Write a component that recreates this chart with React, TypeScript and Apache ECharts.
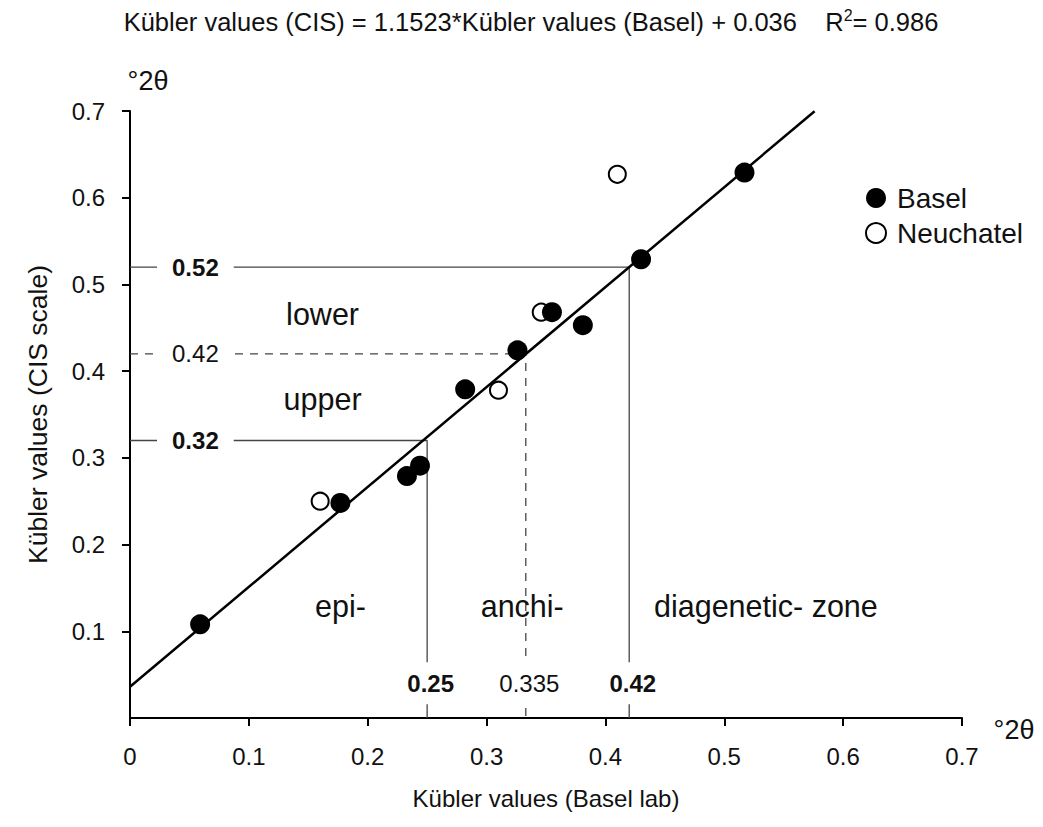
import React, { useEffect, useRef } from "react";
import * as echarts from "echarts";

// ---- data ----
const baselX = [0.059, 0.177, 0.233, 0.244, 0.282, 0.326, 0.355, 0.381, 0.43, 0.517];
const baselY = [0.108, 0.248, 0.279, 0.291, 0.379, 0.424, 0.468, 0.453, 0.529, 0.629];
const neuchatelX = [0.16, 0.31, 0.346, 0.41];
const neuchatelY = [0.25, 0.378, 0.468, 0.627];

const fitSlope = 1.1523;
const fitIntercept = 0.036;
const fitR2 = 0.986;
const fitXRange = [0, 0.576];

// zone limits (x = Basel lab, y = CIS scale)
const limitX = [0.25, 0.333, 0.42];
const limitY = [0.32, 0.42, 0.52];
const limitLabelX = ["0.25", "0.335", "0.42"];
const limitLabelY = ["0.32", "0.42", "0.52"];
const limitBold = [true, false, true];
const limitDashed = [false, true, false];

const zoneNames = ["epi-", "anchi-", "diagenetic- zone"];
const zoneX = [0.177, 0.33, 0.535];
const zoneY = 0.129;
const gradeNames = ["lower", "upper"];
const gradeX = 0.162;
const gradeY = [0.466, 0.368];

const axisMin = 0;
const axisMax = 0.7;
const axisStep = 0.1;

const FONT = "Liberation Sans, Arial, sans-serif";
const TXT = "#111";

export default function App() {
  const ref = useRef<HTMLDivElement>(null);
  useEffect(() => {
    document.body.style.margin = "0";
    const chart = echarts.init(ref.current!, null, { renderer: "svg" });

    const limitSeries = limitX.map((x, i) => ({
      type: "line",
      name: "limit" + i,
      data: [
        [0, limitY[i]],
        [x, limitY[i]],
        [x, 0],
      ],
      symbol: "none",
      silent: true,
      z: 1,
      lineStyle: {
        color: "#444",
        width: 1.3,
        type: limitDashed[i] ? [8, 7] : "solid",
      },
    }));

    const labelData: any[] = [];
    limitY.forEach((y, i) => {
      labelData.push({
        value: [0.055, y],
        name: limitLabelY[i],
        label: { fontWeight: limitBold[i] ? "bold" : "normal", padding: [2, 15] },
      });
      labelData.push({
        value: [limitX[i] + 0.003, 0.04],
        name: limitLabelX[i],
        label: { fontWeight: limitBold[i] ? "bold" : "normal", padding: [9, 3] },
      });
    });

    const textData: any[] = [];
    zoneNames.forEach((n, i) => textData.push({ value: [zoneX[i], zoneY], name: n }));
    gradeNames.forEach((n, i) => textData.push({ value: [gradeX, gradeY[i]], name: n }));

    const plainLabel = {
      show: true,
      position: "inside",
      formatter: (p: any) => p.name,
      fontFamily: FONT,
      color: TXT,
      textBorderWidth: 0,
      textBorderColor: "transparent",
      opacity: 1,
    };

    chart.setOption({
      animation: false,
      textStyle: { fontFamily: FONT, color: TXT },
      grid: { left: 130, right: 81, top: 111, bottom: 109, containLabel: false },
      graphic: [
        {
          type: "text",
          x: 531,
          y: 22,
          style: {
            text:
              "Kübler values (CIS) = " +
              fitSlope +
              "*Kübler values (Basel) + " +
              fitIntercept +
              "    R{sup|2}= " +
              fitR2,
            align: "center",
            verticalAlign: "middle",
            font: "25.5px " + FONT,
            fill: TXT,
            rich: {
              sup: { fontSize: 16, fontFamily: FONT, fill: TXT, verticalAlign: "top", padding: [0, 0, 13, 0] },
            },
          } as any,
        },
        {
          type: "text",
          x: 148,
          y: 81,
          style: { text: "°2θ", align: "center", verticalAlign: "middle", font: "27px " + FONT, fill: TXT },
        },
        {
          type: "text",
          x: 1014,
          y: 730,
          style: { text: "°2θ", align: "center", verticalAlign: "middle", font: "27px " + FONT, fill: TXT },
        },
      ],
      legend: {
        data: ["Basel", "Neuchatel"],
        orient: "vertical",
        left: 860,
        top: 179,
        itemWidth: 20,
        itemHeight: 20,
        itemGap: 7,
        icon: "circle",
        textStyle: { fontSize: 28, fontFamily: FONT, color: TXT, padding: [0, 0, 0, 6] },
      },
      xAxis: {
        type: "value",
        min: axisMin,
        max: axisMax,
        interval: axisStep,
        name: "Kübler values (Basel lab)",
        nameLocation: "middle",
        nameGap: 68,
        nameTextStyle: { fontSize: 24, fontFamily: FONT, color: TXT },
        axisLine: { lineStyle: { color: "#000", width: 2 } },
        axisTick: { show: true, length: 8, lineStyle: { color: "#000", width: 2 } },
        axisLabel: {
          fontSize: 24,
          fontFamily: FONT,
          color: TXT,
          margin: 26,
          formatter: (v: number) => String(+v.toFixed(1)),
        },
        splitLine: { show: false },
      },
      yAxis: {
        type: "value",
        min: axisMin,
        max: axisMax,
        interval: axisStep,
        name: "Kübler values (CIS scale)",
        nameLocation: "middle",
        nameGap: 79,
        nameTextStyle: { fontSize: 26.5, fontFamily: FONT, color: TXT },
        axisLine: { lineStyle: { color: "#000", width: 2 } },
        axisTick: { show: true, length: 8, lineStyle: { color: "#000", width: 2 } },
        axisLabel: {
          fontSize: 24,
          fontFamily: FONT,
          color: TXT,
          margin: 25,
          showMinLabel: false,
          formatter: (v: number) => String(+v.toFixed(1)),
        },
        splitLine: { show: false },
      },
      series: [
        ...limitSeries,
        {
          type: "line",
          name: "fit",
          data: fitXRange.map((x) => [x, fitSlope * x + fitIntercept]),
          symbol: "none",
          silent: true,
          z: 2,
          lineStyle: { color: "#000", width: 2.5 },
        },
        {
          type: "scatter",
          name: "Neuchatel",
          data: neuchatelX.map((x, i) => [x, neuchatelY[i]]),
          symbol: "circle",
          symbolSize: 17,
          z: 3,
          itemStyle: { color: "#fff", borderColor: "#000", borderWidth: 2, opacity: 1 },
        },
        {
          type: "scatter",
          name: "Basel",
          data: baselX.map((x, i) => [x, baselY[i]]),
          symbol: "circle",
          symbolSize: 20,
          z: 4,
          itemStyle: { color: "#000", opacity: 1 },
        },
        {
          type: "scatter",
          name: "limitLabels",
          data: labelData,
          symbolSize: 0,
          silent: true,
          z: 5,
          itemStyle: { color: "#000", opacity: 1 },
          label: { ...plainLabel, fontSize: 24, backgroundColor: "#fff" },
        },
        {
          type: "scatter",
          name: "zoneLabels",
          data: textData,
          symbolSize: 0,
          silent: true,
          z: 5,
          itemStyle: { color: "#000", opacity: 1 },
          label: { ...plainLabel, fontSize: 30.5 },
        },
      ],
    });
    return () => chart.dispose();
  }, []);
  return <div ref={ref} style={{ width: 1043, height: 827 }} />;
}
